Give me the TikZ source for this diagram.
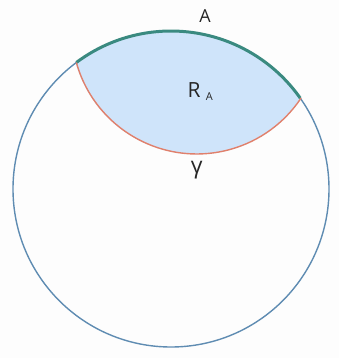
\documentclass[tikz,border=0pt]{standalone}
\usepackage{fontspec}
\setmainfont{Open Sans}
\usetikzlibrary{calc}
\definecolor{outerc}{HTML}{5F8CB2}
\definecolor{arcA}{HTML}{3A8A80}
\definecolor{gam}{HTML}{E0806C}
\definecolor{regfill}{HTML}{CFE4FA}
\definecolor{bg}{HTML}{FDFDFD}
\tikzset{
  outerline/.style={draw=outerc, line width=1.4bp},
  arcline/.style={draw=arcA, line width=3bp},
  gamline/.style={draw=gam, line width=1.4bp},
  lbl/.style={inner sep=0pt, text=black!85}
}
\begin{document}
\begin{tikzpicture}[x=1bp,y=1bp]
\fill[bg] (0,0) rectangle (339,358);
\useasboundingbox (0,0) rectangle (339,358);
\coordinate (O) at (171,169);
\coordinate (P1) at ($(O)+(126.8:158)$);
\coordinate (P2) at ($(O)+(35.1:158)$);
% region
\fill[regfill] (P1) arc[start angle=126.8, end angle=35.1, radius=158]
  arc[start angle=326.4, end angle=195.6, radius=125.1] -- cycle;
% outer circle
\draw[outerline] (O) circle[radius=158];
% boundary arc A
\draw[arcline] (P1) arc[start angle=126.8, end angle=35.1, radius=158];
% gamma curve
\draw[gamline] (P1) arc[start angle=195.6, end angle=326.4, radius=125.1];
% labels
\node[lbl, anchor=base, font=\fontsize{18}{18}\selectfont] (labA) at (205,335.3) {A};
\node[lbl, anchor=base, font=\fontsize{21}{21}\selectfont] (labR) at (194,260.3) {R};
\node[lbl, anchor=base, font=\fontsize{11}{11}\selectfont] (labRs) at (209.3,257.3) {A};
\node[lbl, anchor=center, font=\fontsize{23}{23}\selectfont] (labG) at (196.7,187.5) {γ};
\end{tikzpicture}
\end{document}
